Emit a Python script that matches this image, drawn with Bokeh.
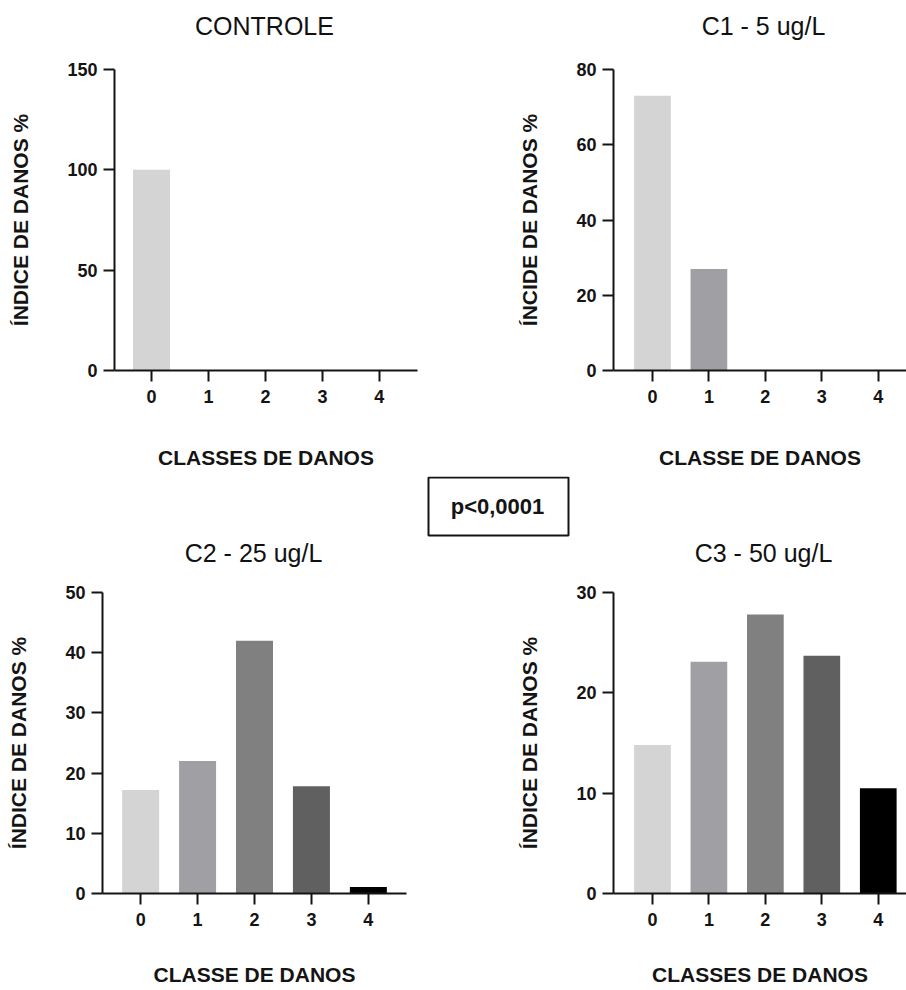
from bokeh.plotting import figure
from bokeh.layouts import column, row
from bokeh.models import Range1d, FixedTicker, Label, BoxAnnotation, ColumnDataSource
from bokeh.embed import file_html
from bokeh.resources import INLINE

# ---------------- data ----------------
classes = [0, 1, 2, 3, 4]
controle = [100.0, 0.0, 0.0, 0.0, 0.0]
c1_5 = [73.0, 27.0, 0.0, 0.0, 0.0]
c2_25 = [17.2, 22.0, 42.0, 17.8, 1.1]
c3_50 = [14.8, 23.1, 27.8, 23.7, 10.5]
bar_colors = ["#d4d4d4", "#a0a0a4", "#808080", "#606060", "#000000"]

ticks_controle = [0, 50, 100, 150]
ticks_c1 = [0, 20, 40, 60, 80]
ticks_c2 = [0, 10, 20, 30, 40, 50]
ticks_c3 = [0, 10, 20, 30]

titles = ["CONTROLE", "C1 - 5 ug/L", "C2 - 25 ug/L", "C3 - 50 ug/L"]
xlabels = ["CLASSES DE DANOS", "CLASSE DE DANOS", "CLASSE DE DANOS", "CLASSES DE DANOS"]
ylabels = ["ÍNDICE DE DANOS %", "ÍNCIDE DE DANOS %", "ÍNDICE DE DANOS %", "ÍNDICE DE DANOS %"]
p_text = "p<0,0001"

FONT = "Liberation Sans"
INK = "#141414"
W = 906


def panel(xlabel, ylabel, vals, yticks, width, height, bl, br, bt, bb, xr, xlabel_standoff):
    ymax = yticks[-1]
    p = figure(width=width, height=height, x_range=Range1d(*xr), y_range=Range1d(0, ymax),
               output_backend="svg", toolbar_location=None,
               min_border_left=bl, min_border_right=br, min_border_top=bt, min_border_bottom=bb,
               outline_line_color=None, background_fill_color="white", border_fill_color="white")
    p.grid.visible = False
    src = ColumnDataSource(dict(x=classes, top=vals, color=bar_colors))
    p.vbar(x="x", top="top", width=0.65, fill_color="color", line_color=None, source=src)

    p.xaxis.ticker = FixedTicker(ticks=classes)
    p.yaxis.ticker = FixedTicker(ticks=yticks)
    for ax in (p.xaxis, p.yaxis):
        ax.axis_line_width = 2
        ax.axis_line_color = INK
        ax.major_tick_line_width = 2
        ax.major_tick_line_color = INK
        ax.major_tick_out = 11
        ax.major_tick_in = 0
        ax.minor_tick_line_color = None
        ax.major_label_text_font = FONT
        ax.major_label_text_font_style = "bold"
        ax.major_label_text_font_size = "18px"
        ax.major_label_text_color = INK
        ax.axis_label_text_font = FONT
        ax.axis_label_text_font_style = "bold"
        ax.axis_label_text_color = INK
    p.xaxis.major_label_standoff = 8
    p.yaxis.major_label_standoff = 6

    p.yaxis.axis_label = ylabel
    p.yaxis.axis_label_text_font_size = "21px"
    p.yaxis.axis_label_standoff = 32

    p.xaxis.axis_label = xlabel
    p.xaxis.axis_label_text_font_size = "21px"
    p.xaxis.axis_label_standoff = xlabel_standoff
    return p


def strip(height):
    s = figure(width=W, height=height, x_range=Range1d(0, W), y_range=Range1d(0, height),
               output_backend="svg", toolbar_location=None, min_border=0,
               x_axis_location=None, y_axis_location=None, outline_line_color=None)
    s.grid.visible = False
    return s


def title_label(x, y, text):
    return Label(x=x, y=y, text=text, text_align="center", text_baseline="middle",
                 text_font=FONT, text_font_size="25px", text_color="#111111")


# top strip: titles of the first row
top = strip(48)
top.add_layout(title_label(264, 23, titles[0]))
top.add_layout(title_label(763, 23, titles[1]))

f1 = panel(xlabels[0], ylabels[0], controle, ticks_controle,
           453, 428, 114, 36, 21, 106, (-0.65, 4.67), 40)
f2 = panel(xlabels[1], ylabels[1], c1_5, ticks_c1,
           453, 428, 160, 0, 21, 106, (-0.69, 4.50), 40)

# middle strip: p-value box + titles of the second row
mid = strip(104)
mid.add_layout(BoxAnnotation(left=428, right=568, bottom=45, top=103, fill_color=None,
                             fill_alpha=0, line_color=INK, line_alpha=1, line_width=2))
mid.add_layout(Label(x=497, y=74, text=p_text, text_align="center", text_baseline="middle",
                     text_font=FONT, text_font_size="22px", text_font_style="bold",
                     text_color=INK))
mid.add_layout(title_label(253, 28, titles[2]))
mid.add_layout(title_label(763, 28, titles[3]))

f3 = panel(xlabels[2], ylabels[2], c2_25, ticks_c2,
           453, 410, 102, 47, 12, 97, (-0.67, 4.67), 34)
f4 = panel(xlabels[3], ylabels[3], c3_50, ticks_c3,
           453, 410, 160, 0, 12, 97, (-0.69, 4.50), 34)

layout = column(top, row(f1, f2), mid, row(f3, f4))

with open("out.html", "w") as fh:
    fh.write(file_html(layout, INLINE))
